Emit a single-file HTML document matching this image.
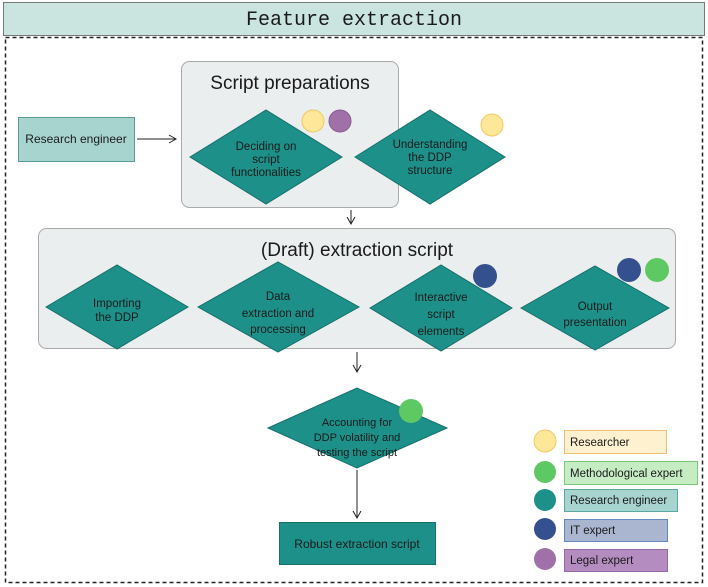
<!DOCTYPE html>
<html><head><meta charset="utf-8"><style>
html,body{margin:0;padding:0;background:#fff;width:708px;height:587px;overflow:hidden}
svg{display:block}
text{font-family:"Liberation Sans",Arial,sans-serif;fill:#1a1a1a}
</style></head><body>
<svg width="708" height="587" viewBox="0 0 708 587" xmlns="http://www.w3.org/2000/svg">
<defs>
<marker id="a" markerWidth="10" markerHeight="10" refX="8" refY="5" orient="auto" markerUnits="userSpaceOnUse">
<path d="M1,1 L8,5 L1,9" fill="none" stroke="#222" stroke-width="1"/></marker>
</defs>
<rect x="3.5" y="2.5" width="701" height="33" fill="#cae5e0" stroke="#777"/>
<text x="354" y="25" text-anchor="middle" font-size="20" style="font-family:'Liberation Mono',monospace">Feature extraction</text>
<rect x="5.5" y="37.5" width="697" height="545" fill="none" stroke="#222" stroke-width="1.5" stroke-dasharray="4,3"/>

<rect x="181.5" y="61.5" width="217" height="146" rx="8" fill="#ebeeef" stroke="#aaa"/>
<text x="290" y="89" text-anchor="middle" font-size="19">Script preparations</text>
<polygon points="190,157 266,110 342,157 266,204" fill="#1d9189" stroke="#157069"/>
<text text-anchor="middle" font-size="11.5"><tspan x="266" y="150">Deciding on</tspan><tspan x="266" y="163">script</tspan><tspan x="266" y="176">functionalities</tspan></text>
<polygon points="355,157 430,110 505,157 430,204" fill="#1d9189" stroke="#157069"/>
<text text-anchor="middle" font-size="11.5"><tspan x="430" y="148">Understanding</tspan><tspan x="430" y="161">the DDP</tspan><tspan x="430" y="174">structure</tspan></text>
<circle cx="313" cy="121" r="11" fill="#fde89a" stroke="#f0c860"/>
<circle cx="340" cy="121" r="11" fill="#a070a8" stroke="#8a5a94"/>
<circle cx="492" cy="125" r="11" fill="#fde89a" stroke="#f0c860"/>

<rect x="18.5" y="117.5" width="116" height="44" fill="#a8d4d0" stroke="#5a9a96"/>
<text x="76" y="143" text-anchor="middle" font-size="12">Research engineer</text>
<line x1="137" y1="139" x2="176" y2="139" stroke="#222" marker-end="url(#a)"/>
<line x1="351" y1="210" x2="351" y2="224" stroke="#222" marker-end="url(#a)"/>

<rect x="38.5" y="228.5" width="637" height="120" rx="8" fill="#ebeeef" stroke="#aaa"/>
<text x="357" y="256" text-anchor="middle" font-size="19">(Draft) extraction script</text>
<polygon points="46,307 117,265 188,307 117,349" fill="#1d9189" stroke="#157069"/>
<text text-anchor="middle" font-size="11.5"><tspan x="117" y="307">Importing</tspan><tspan x="117" y="321">the DDP</tspan></text>
<polygon points="198,307 278,262 359,307 278,352" fill="#1d9189" stroke="#157069"/>
<text text-anchor="middle" font-size="11.5"><tspan x="278" y="300">Data</tspan><tspan x="278" y="317">extraction and</tspan><tspan x="278" y="333">processing</tspan></text>
<polygon points="370,308 441,265 512,308 441,351" fill="#1d9189" stroke="#157069"/>
<text text-anchor="middle" font-size="11.5"><tspan x="441" y="301">Interactive</tspan><tspan x="441" y="318">script</tspan><tspan x="441" y="335">elements</tspan></text>
<polygon points="521,308 595,266 669,308 595,350" fill="#1d9189" stroke="#157069"/>
<text text-anchor="middle" font-size="11.5"><tspan x="595" y="310">Output</tspan><tspan x="595" y="326">presentation</tspan></text>
<circle cx="485" cy="276" r="12" fill="#34508e"/>
<circle cx="629" cy="270" r="12" fill="#34508e"/>
<circle cx="657" cy="270" r="12" fill="#5ec862"/>

<line x1="357" y1="352" x2="357" y2="372" stroke="#222" marker-end="url(#a)"/>
<polygon points="268,428 357,388 447,428 357,468" fill="#1d9189" stroke="#157069"/>
<text text-anchor="middle" font-size="11"><tspan x="357" y="426">Accounting for</tspan><tspan x="357" y="441">DDP volatility and</tspan><tspan x="357" y="456">testing the script</tspan></text>
<circle cx="411" cy="411" r="12" fill="#5ec862"/>
<line x1="357" y1="470" x2="357" y2="518" stroke="#222" marker-end="url(#a)"/>
<rect x="279.5" y="522.5" width="156" height="42" fill="#1d9189" stroke="#157069"/>
<text x="357" y="548" text-anchor="middle" font-size="12">Robust extraction script</text>

<circle cx="545" cy="441" r="11" fill="#fde89a" stroke="#f0c860"/>
<circle cx="545" cy="472" r="11" fill="#5ec862"/>
<circle cx="545" cy="500" r="11" fill="#1d9189"/>
<circle cx="545" cy="529" r="11" fill="#34508e"/>
<circle cx="545" cy="559" r="11" fill="#a070a8"/>
<rect x="564.5" y="430.5" width="102" height="23" fill="#fdf1cf" stroke="#f0c070"/>
<text x="570" y="446" font-size="11.5">Researcher</text>
<rect x="564.5" y="461.5" width="133" height="23" fill="#c6ecc4" stroke="#7ac87a"/>
<text x="570" y="477" font-size="11.5">Methodological expert</text>
<rect x="564.5" y="489.5" width="113" height="22" fill="#a8d4d0" stroke="#5aa8a4"/>
<text x="570" y="504" font-size="11.5">Research engineer</text>
<rect x="564.5" y="519.5" width="103" height="22" fill="#aab6d0" stroke="#6688c0"/>
<text x="570" y="534" font-size="11.5">IT expert</text>
<rect x="564.5" y="549.5" width="103" height="22" fill="#b48cc0" stroke="#9a66aa"/>
<text x="570" y="564" font-size="11.5">Legal expert</text>
</svg>
</body></html>
